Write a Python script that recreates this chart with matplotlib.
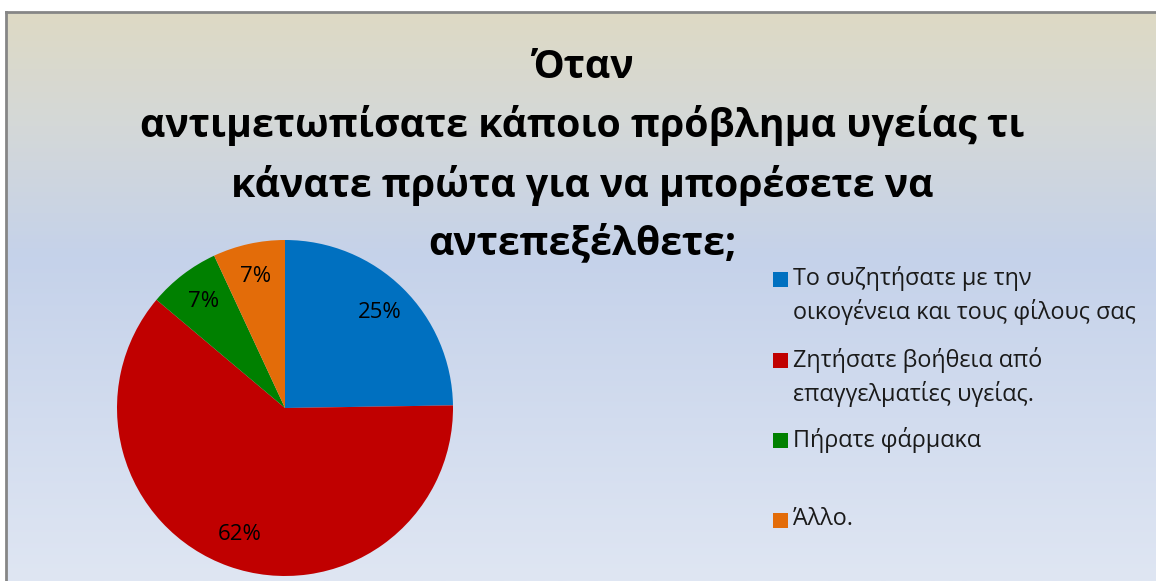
import matplotlib.pyplot as plt
import numpy as np
from matplotlib.patches import Rectangle

plt.rcParams['font.family'] = ['Open Sans', 'DejaVu Sans']

titulo = "Όταν\nαντιμετωπίσατε κάποιο πρόβλημα υγείας τι\nκάνατε πρώτα για να μπορέσετε να\nαντεπεξέλθετε;"
etiquetas = ["Το συζητήσατε με την\nοικογένεια και τους φίλους σας",
             "Ζητήσατε βοήθεια από\nεπαγγελματίες υγείας.",
             "Πήρατε φάρμακα",
             "Άλλο."]
valores = [25, 62, 7, 7]
colores = ['#0070c0', '#c00000', '#008000', '#e36c09']

W, H = 1156, 581
fig = plt.figure(figsize=(W / 100, H / 100), dpi=100)
fig.patch.set_facecolor('white')

# fondo degradado del grafico (fila 0 = arriba)
fondo = fig.add_axes([6 / W, 0, 1 - 6 / W, (H - 12) / H])
fondo.set_zorder(-1)
ys = np.linspace(0, 1, 300)
pos = [0.0, 0.2, 0.43, 1.0]
r = np.interp(ys, pos, [222, 212, 197, 223])
g = np.interp(ys, pos, [218, 216, 210, 230])
b = np.interp(ys, pos, [196, 216, 234, 243])
grad = np.stack([r, g, b], axis=1)[:, None, :] / 255
fondo.imshow(grad, aspect='auto', extent=[0, 1, 0, 1], origin='upper')
fondo.set_xlim(0, 1)
fondo.set_ylim(0, 1)
fondo.set_xticks([])
fondo.set_yticks([])
for lado in ['right', 'bottom']:
    fondo.spines[lado].set_visible(False)
for lado in ['left', 'top']:
    fondo.spines[lado].set_color('#868686')
    fondo.spines[lado].set_linewidth(2)

# pastel
cx, cy, rad = 285, 408, 168
ax = fig.add_axes([(cx - rad) / W, (H - cy - rad) / H, 2 * rad / W, 2 * rad / H])
ax.pie(valores, colors=colores, startangle=90, counterclock=False,
       labels=None, pctdistance=0.8,
       autopct=lambda p: '%d%%' % round(p * sum(valores) / 100),
       textprops={'fontsize': 16, 'color': 'black'})
ax.set_xlim(-1, 1)
ax.set_ylim(-1, 1)
ax.set_aspect('equal')
ax.axis('off')

fig.text(582 / W, 1 - 48 / H, titulo, ha='center', va='top', fontsize=28.3,
         fontweight='bold', linespacing=1.575)

# leyenda
y_items = [272, 353, 433, 513]
for etq, col, y in zip(etiquetas, colores, y_items):
    fig.patches.append(Rectangle((773 / W, 1 - (y + 15) / H), 15 / W, 15 / H,
                                 transform=fig.transFigure, facecolor=col,
                                 edgecolor='none'))
    fig.text(793 / W, 1 - (y - 6) / H, etq, ha='left', va='top', fontsize=16.8,
             linespacing=1.42, color='#1a1a1a')

plt.savefig('out.png', dpi=100)
